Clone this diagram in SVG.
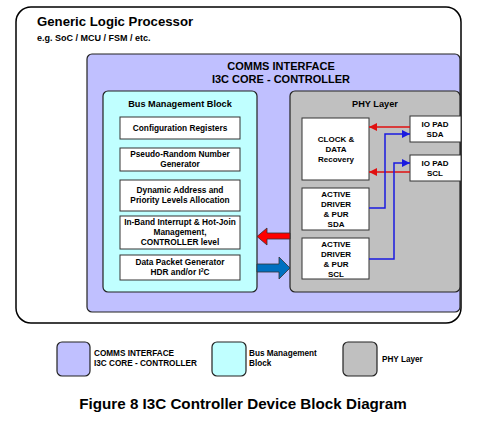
<svg xmlns="http://www.w3.org/2000/svg" width="482" height="434" viewBox="0 0 482 434">
<defs>
<style>
text{font-family:"Liberation Sans",Arial,sans-serif;font-weight:bold;fill:#000}
.box{stroke:#222;stroke-width:1.2}
.wb{fill:#fff;stroke:#333;stroke-width:1}
.t8{font-size:8.3px;text-anchor:middle}
.p8{font-size:8px;text-anchor:middle}
.lg{font-size:8.2px}
.red{stroke:#e01010;stroke-width:1.5;fill:none}
.blu{stroke:#1a1ae0;stroke-width:1.5;fill:none}
</style>
<marker id="ar" viewBox="0 0 10 10" refX="10" refY="5" markerWidth="10" markerHeight="8" markerUnits="userSpaceOnUse" orient="auto"><path d="M0,0L10,5L0,10z" fill="#e01010"/></marker>
<marker id="ab" viewBox="0 0 10 10" refX="10" refY="5" markerWidth="10" markerHeight="8" markerUnits="userSpaceOnUse" orient="auto"><path d="M0,0L10,5L0,10z" fill="#1a1ae0"/></marker>
</defs>
<rect width="482" height="434" fill="#fff"/>

<g id="processor">
<rect x="16" y="7" width="445" height="316" rx="15" fill="#fff" stroke="#000" stroke-width="1.5"/>
<text x="37" y="26" font-size="13.2">Generic Logic Processor</text>
<text x="37" y="41" font-size="9">e.g. SoC / MCU / FSM / etc.</text>
</g>

<g id="comms">
<rect class="box" x="87" y="54" width="373" height="258" rx="5" fill="#c0c0ff"/>
<text x="281" y="70" font-size="11" text-anchor="middle">COMMS INTERFACE</text>
<text x="281" y="83" font-size="11" text-anchor="middle">I3C CORE - CONTROLLER</text>
</g>

<g id="bus">
<rect class="box" x="103" y="91" width="154" height="201" rx="5" fill="#c0ffff"/>
<text x="180" y="107" font-size="9.2" text-anchor="middle">Bus Management Block</text>
</g>
<g id="config"><rect class="wb" x="120" y="117" width="120" height="22"/><text class="t8" x="180" y="131">Configuration Registers</text></g>
<g id="prng"><rect class="wb" x="120" y="148" width="120" height="23"/><text class="t8" x="180" y="157">Pseudo-Random Number</text><text class="t8" x="180" y="167">Generator</text></g>
<g id="dynamic"><rect class="wb" x="120" y="180" width="120" height="31"/><text class="t8" x="180" y="193">Dynamic Address and</text><text class="t8" x="180" y="203">Priority Levels Allocation</text></g>
<g id="ibi"><rect class="wb" x="120" y="216" width="120" height="33"/><text class="t8" x="180" y="225">In-Band Interrupt &amp; Hot-Join</text><text class="t8" x="180" y="235">Management,</text><text class="t8" x="180" y="245">CONTROLLER level</text></g>
<g id="packet"><rect class="wb" x="120" y="255" width="120" height="25"/><text class="t8" x="180" y="265">Data Packet Generator</text><text class="t8" x="180" y="275">HDR and/or I<tspan font-size="5" dy="-3">2</tspan><tspan dy="3">C</tspan></text></g>

<g id="phy">
<rect class="box" x="290" y="91" width="170" height="201" rx="5" fill="#c0c0c0"/>
<text x="375" y="107" font-size="9.2" text-anchor="middle">PHY Layer</text>
</g>
<g id="cdr"><rect class="wb" x="302" y="118" width="67" height="62"/><text class="p8" x="336" y="142">CLOCK &amp;</text><text class="p8" x="336" y="152">DATA</text><text class="p8" x="336" y="162">Recovery</text></g>
<g id="drv-sda"><rect class="wb" x="302" y="188" width="67" height="42"/><text class="p8" x="336" y="197">ACTIVE</text><text class="p8" x="336" y="207">DRIVER</text><text class="p8" x="336" y="217">&amp; PUR</text><text class="p8" x="336" y="227">SDA</text></g>
<g id="drv-scl"><rect class="wb" x="302" y="238" width="67" height="41"/><text class="p8" x="336" y="247">ACTIVE</text><text class="p8" x="336" y="257">DRIVER</text><text class="p8" x="336" y="267">&amp; PUR</text><text class="p8" x="336" y="277">SCL</text></g>
<g id="pad-sda"><rect class="wb" x="410" y="116" width="51" height="26"/><text class="p8" x="435" y="127">IO PAD</text><text class="p8" x="435" y="137">SDA</text></g>
<g id="pad-scl"><rect class="wb" x="410" y="155" width="51" height="26"/><text class="p8" x="435" y="166">IO PAD</text><text class="p8" x="435" y="176">SCL</text></g>

<g id="connectors">
<path class="red" d="M410,127H369" marker-end="url(#ar)"/>
<path class="red" d="M410,172H369" marker-end="url(#ar)"/>
<path class="blu" d="M369,208H385V134H410" marker-end="url(#ab)"/>
<path class="blu" d="M369,259H394V163H410" marker-end="url(#ab)"/>
<path d="M290,233H267V228L257,236.5L267,245V239H290Z" fill="#ff0000" stroke="#333" stroke-width="0.8"/>
<path d="M257,264H279V257L290,268L279,279V272H257Z" fill="#0070c0" stroke="#333" stroke-width="0.8"/>
</g>

<g id="legend">
<rect class="box" x="57" y="342" width="33" height="34" rx="5" fill="#c0c0ff"/>
<text class="lg" x="94" y="356">COMMS INTERFACE</text>
<text class="lg" x="94" y="366">I3C CORE - CONTROLLER</text>
<rect class="box" x="212" y="342" width="34" height="34" rx="5" fill="#c0ffff"/>
<text class="lg" x="249" y="356">Bus Management</text>
<text class="lg" x="249" y="366">Block</text>
<rect class="box" x="343" y="342" width="34" height="34" rx="5" fill="#c0c0c0"/>
<text class="lg" x="382" y="362">PHY Layer</text>
</g>
<text x="243" y="409" font-size="15.2" text-anchor="middle">Figure 8 I3C Controller Device Block Diagram</text>
</svg>
